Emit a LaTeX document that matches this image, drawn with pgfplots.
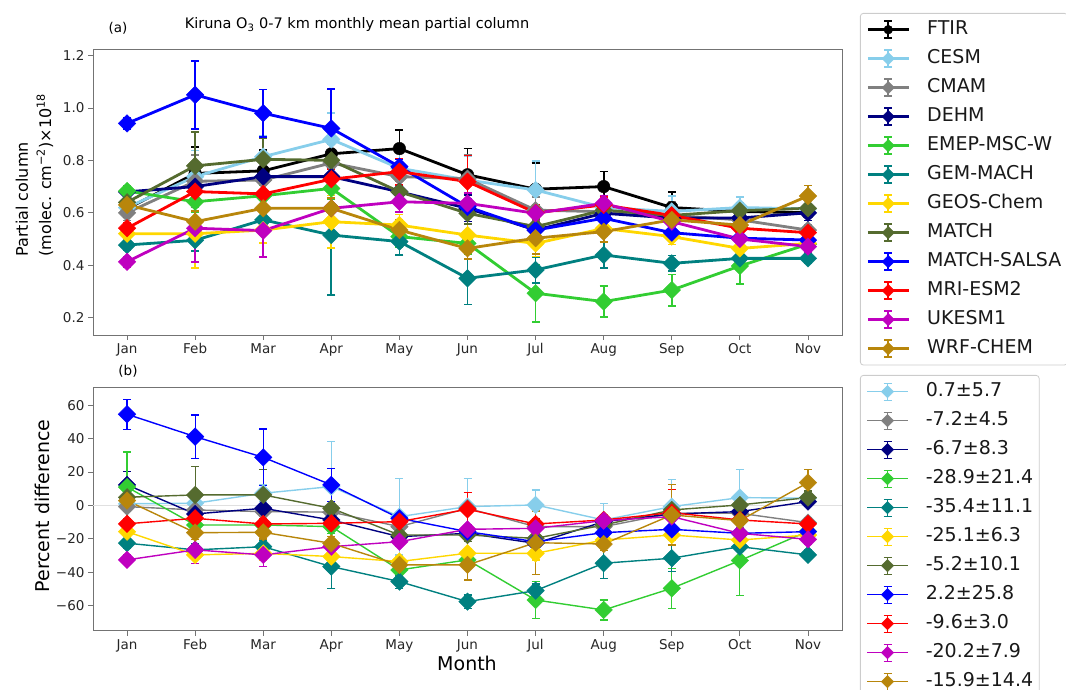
\documentclass[border=0pt]{standalone}
\usepackage{fontspec}
\setmainfont{DejaVu Sans}
\usepackage{pgfplots}
\pgfplotsset{compat=1.18}
\definecolor{cSky}{RGB}{135,206,235}
\definecolor{cGray}{RGB}{128,128,128}
\definecolor{cNavy}{RGB}{0,0,128}
\definecolor{cLime}{RGB}{50,205,50}
\definecolor{cTeal}{RGB}{0,128,128}
\definecolor{cGold}{RGB}{255,215,0}
\definecolor{cOlive}{RGB}{85,107,47}
\definecolor{cBlue}{RGB}{0,0,255}
\definecolor{cRed}{RGB}{255,0,0}
\definecolor{cMag}{RGB}{191,0,191}
\definecolor{cGoldenrod}{RGB}{184,134,11}
\tikzset{
  dia/.style={color=#1, mark=square*, mark size=6.2pt, mark options={rotate=45, solid, fill=#1, draw=#1, line width=0.4pt}},
  circ/.style={color=#1, mark=*, mark size=6.3pt, mark options={solid, fill=#1, draw=#1, line width=0.4pt}},
}
\pgfplotsset{
  base/.style={
    scale only axis, width=749pt,
    xmin=-0.5, xmax=10.5,
    xtick={0,...,10},
    xticklabels={Jan,Feb,Mar,Apr,May,Jun,Jul,Aug,Sep,Oct,Nov},
    tick pos=left, tick align=outside,
    major tick length=5pt,
    axis line style={black!55, line width=0.9pt},
    major tick style={black!55, line width=0.9pt},
    tick label style={font=\fontsize{13.5}{16}\selectfont, text=black!85},
    error bars/y dir=both, error bars/y explicit,
    legend cell align=left,
  },
}
\begin{document}
\begin{tikzpicture}
\clip (0pt,0pt) rectangle (1066pt,690pt);
\begin{axis}[base, at={(93pt,355pt)}, anchor=south west, height=286pt,
  ymin=0.1336, ymax=1.225,
  ytick={0.2,0.4,0.6,0.8,1.0,1.2},
  yticklabels={0.2,0.4,0.6,0.8,1.0,1.2},
  every axis plot/.append style={line width=2.8pt},
  error bars/error bar style={line width=1.7pt},
  error bars/error mark options={rotate=90, line width=1.7pt, mark size=4pt},
  legend image code/.code={
    \draw[#1, mark=none, line width=2.8pt] (0pt,0pt) -- (41pt,0pt);
    \draw[#1, mark=none, line width=1.7pt] (20.5pt,-8.5pt) -- (20.5pt,8.5pt) (16.5pt,-8.5pt) -- (24.5pt,-8.5pt) (16.5pt,8.5pt) -- (24.5pt,8.5pt);
    \draw[#1, mark size=4.4pt] plot coordinates {(20.5pt,0pt)};
  },
  legend style={at={(1.024,1.126)}, anchor=north west, draw=black!20, line width=0.8pt, rounded corners=3pt, fill=white, inner xsep=6pt, inner ysep=7pt, row sep=10.3pt, column sep=17pt, font=\fontsize{19}{22}\selectfont, text=black!90, nodes={inner sep=0pt, text height=14pt, text depth=4.5pt}},
]
\addplot[circ=black] coordinates {(0,0.615)+-(0,0.03) (1,0.75)+-(0,0.10) (2,0.76)+-(0,0.08) (3,0.825)+-(0,0.05) (4,0.845)+-(0,0.07) (5,0.745)+-(0,0.10) (6,0.69)+-(0,0.10) (7,0.70)+-(0,0.057) (8,0.62)+-(0,0.06) (9,0.605)+-(0,0.03) (10,0.60)+-(0,0.03)};
\addlegendentry{FTIR}
\addplot[dia=cSky] coordinates {(0,0.62)+-(0,0.03) (1,0.738)+-(0,0.10) (2,0.814)+-(0,0.08) (3,0.88)+-(0,0.10) (4,0.77)+-(0,0.07) (5,0.725)+-(0,0.09) (6,0.687)+-(0,0.11) (7,0.62)+-(0,0.04) (8,0.605)+-(0,0.06) (9,0.62)+-(0,0.04) (10,0.615)+-(0,0.03)};
\addlegendentry{CESM}
\addplot[dia=cGray] coordinates {(0,0.60)+-(0,0.03) (1,0.72)+-(0,0.10) (2,0.725)+-(0,0.07) (3,0.79)+-(0,0.07) (4,0.738)+-(0,0.05) (5,0.73)+-(0,0.09) (6,0.61)+-(0,0.05) (7,0.604)+-(0,0.04) (8,0.59)+-(0,0.05) (9,0.573)+-(0,0.03) (10,0.534)+-(0,0.02)};
\addlegendentry{CMAM}
\addplot[dia=cNavy] coordinates {(0,0.68)+-(0,0.02) (1,0.70)+-(0,0.05) (2,0.738)+-(0,0.05) (3,0.738)+-(0,0.05) (4,0.68)+-(0,0.04) (5,0.617)+-(0,0.05) (6,0.534)+-(0,0.03) (7,0.598)+-(0,0.03) (8,0.58)+-(0,0.03) (9,0.58)+-(0,0.03) (10,0.60)+-(0,0.03)};
\addlegendentry{DEHM}
\addplot[dia=cLime] coordinates {(0,0.683)+-(0,0.02) (1,0.642)+-(0,0.04) (2,0.665)+-(0,0.04) (3,0.693)+-(0,0.04) (4,0.509)+-(0,0.04) (5,0.483)+-(0,0.04) (6,0.293)+-(0,0.11) (7,0.261)+-(0,0.06) (8,0.305)+-(0,0.06) (9,0.397)+-(0,0.07) (10,0.48)+-(0,0.03)};
\addlegendentry{EMEP-MSC-W}
\addplot[dia=cTeal] coordinates {(0,0.477)+-(0,0.02) (1,0.495)+-(0,0.04) (2,0.573)+-(0,0.04) (3,0.515)+-(0,0.23) (4,0.49)+-(0,0.05) (5,0.35)+-(0,0.10) (6,0.382)+-(0,0.05) (7,0.439)+-(0,0.05) (8,0.407)+-(0,0.03) (9,0.426)+-(0,0.03) (10,0.426)+-(0,0.02)};
\addlegendentry{GEM-MACH}
\addplot[dia=cGold] coordinates {(0,0.52)+-(0,0.02) (1,0.52)+-(0,0.13) (2,0.534)+-(0,0.05) (3,0.566)+-(0,0.10) (4,0.553)+-(0,0.04) (5,0.515)+-(0,0.04) (6,0.483)+-(0,0.05) (7,0.54)+-(0,0.03) (8,0.509)+-(0,0.03) (9,0.464)+-(0,0.02) (10,0.483)+-(0,0.02)};
\addlegendentry{GEOS-Chem}
\addplot[dia=cOlive] coordinates {(0,0.64)+-(0,0.03) (1,0.779)+-(0,0.13) (2,0.804)+-(0,0.08) (3,0.80)+-(0,0.08) (4,0.68)+-(0,0.04) (5,0.598)+-(0,0.04) (6,0.547)+-(0,0.03) (7,0.61)+-(0,0.03) (8,0.59)+-(0,0.03) (9,0.608)+-(0,0.03) (10,0.617)+-(0,0.03)};
\addlegendentry{MATCH}
\addplot[dia=cBlue] coordinates {(0,0.941)+-(0,0.02) (1,1.05)+-(0,0.13) (2,0.98)+-(0,0.09) (3,0.922)+-(0,0.15) (4,0.776)+-(0,0.03) (5,0.623)+-(0,0.03) (6,0.534)+-(0,0.03) (7,0.579)+-(0,0.03) (8,0.524)+-(0,0.03) (9,0.503)+-(0,0.02) (10,0.496)+-(0,0.02)};
\addlegendentry{MATCH-SALSA}
\addplot[dia=cRed] coordinates {(0,0.541)+-(0,0.02) (1,0.681)+-(0,0.04) (2,0.672)+-(0,0.04) (3,0.728)+-(0,0.04) (4,0.757)+-(0,0.05) (5,0.719)+-(0,0.10) (6,0.60)+-(0,0.03) (7,0.63)+-(0,0.03) (8,0.59)+-(0,0.03) (9,0.541)+-(0,0.02) (10,0.524)+-(0,0.02)};
\addlegendentry{MRI-ESM2}
\addplot[dia=cMag] coordinates {(0,0.413)+-(0,0.02) (1,0.541)+-(0,0.13) (2,0.532)+-(0,0.10) (3,0.617)+-(0,0.04) (4,0.642)+-(0,0.04) (5,0.636)+-(0,0.04) (6,0.598)+-(0,0.03) (7,0.636)+-(0,0.03) (8,0.566)+-(0,0.03) (9,0.50)+-(0,0.02) (10,0.471)+-(0,0.02)};
\addlegendentry{UKESM1}
\addplot[dia=cGoldenrod] coordinates {(0,0.63)+-(0,0.02) (1,0.566)+-(0,0.04) (2,0.617)+-(0,0.04) (3,0.617)+-(0,0.04) (4,0.534)+-(0,0.04) (5,0.464)+-(0,0.04) (6,0.503)+-(0,0.06) (7,0.528)+-(0,0.04) (8,0.573)+-(0,0.06) (9,0.553)+-(0,0.03) (10,0.664)+-(0,0.04)};
\addlegendentry{WRF-CHEM}
\end{axis}

\begin{axis}[base, at={(93pt,59.3pt)}, anchor=south west, height=243pt,
  ymin=-75, ymax=70.5,
  ytick={-60,-40,-20,0,20,40,60},
  yticklabels={−60,−40,−20,0,20,40,60},
  extra y ticks={0}, extra y tick labels={},
  extra y tick style={grid=major, major grid style={black!12, line width=0.8pt}, major tick length=0pt},
  every axis plot/.append style={line width=1.4pt},
  error bars/error bar style={line width=1.2pt},
  error bars/error mark options={rotate=90, line width=1.2pt, mark size=4pt},
  legend image code/.code={
    \draw[#1, mark=none, line width=1.4pt] (0pt,0pt) -- (41pt,0pt);
    \draw[#1, mark=none, line width=1.2pt] (20.5pt,-8.5pt) -- (20.5pt,8.5pt) (16.5pt,-8.5pt) -- (24.5pt,-8.5pt) (16.5pt,8.5pt) -- (24.5pt,8.5pt);
    \draw[#1, mark size=4.4pt] plot coordinates {(20.5pt,0pt)};
  },
  legend style={at={(1.024,1.0523)}, anchor=north west, draw=black!20, line width=0.8pt, rounded corners=3pt, fill=white, inner xsep=6pt, inner ysep=7pt, row sep=10.5pt, column sep=17pt, font=\fontsize{19}{22}\selectfont, text=black!90, nodes={inner sep=0pt, text height=14pt, text depth=4.5pt}},
]
\addplot[dia=cSky] coordinates {(0,1)+-(0,3) (1,1.3)+-(0,4) (2,7.3)+-(0,5) (3,11.3)+-(0,27) (4,-6.7)+-(0,23) (5,-0.7)+-(0,17) (6,0.3)+-(0,9) (7,-8.7)+-(0,10) (8,-0.7)+-(0,16) (9,4.7)+-(0,17) (10,4.3)+-(0,3)};
\addlegendentry{0.7±5.7}
\addplot[dia=cGray] coordinates {(0,-0.7)+-(0,3) (1,-2.7)+-(0,4) (2,-3.7)+-(0,3) (3,-4)+-(0,3) (4,-12.7)+-(0,3) (5,-1.7)+-(0,3) (6,-12.7)+-(0,3) (7,-12.7)+-(0,3) (8,-4.7)+-(0,3) (9,-4.7)+-(0,3) (10,-10.3)+-(0,3)};
\addlegendentry{-7.2±4.5}
\addplot[dia=cNavy] coordinates {(0,12.3)+-(0,8) (1,-5.1)+-(0,3) (2,-1.7)+-(0,3) (3,-8.7)+-(0,3) (4,-18.7)+-(0,3) (5,-16.7)+-(0,3) (6,-22.7)+-(0,3) (7,-9.7)+-(0,3) (8,-5.1)+-(0,3) (9,-3.7)+-(0,3) (10,2.3)+-(0,3)};
\addlegendentry{-6.7±8.3}
\addplot[dia=cLime] coordinates {(0,11)+-(0,21) (1,-11.7)+-(0,4) (2,-11.7)+-(0,4) (3,-12.7)+-(0,4) (4,-38.6)+-(0,4) (5,-32.6)+-(0,4) (6,-56.6)+-(0,11) (7,-62.6)+-(0,6) (8,-49.6)+-(0,12) (9,-33)+-(0,21) (10,-15.5)+-(0,4)};
\addlegendentry{-28.9±21.4}
\addplot[dia=cTeal] coordinates {(0,-22.6)+-(0,3) (1,-26.6)+-(0,4) (2,-24.7)+-(0,4) (3,-36.6)+-(0,13) (4,-45.6)+-(0,4) (5,-57.6)+-(0,4) (6,-51)+-(0,4) (7,-34.6)+-(0,9) (8,-31.6)+-(0,8) (9,-24.7)+-(0,3) (10,-29.6)+-(0,3)};
\addlegendentry{-35.4±11.1}
\addplot[dia=cGold] coordinates {(0,-15.7)+-(0,3) (1,-29.6)+-(0,5) (2,-28.7)+-(0,4) (3,-30.6)+-(0,4) (4,-33.6)+-(0,3) (5,-28.6)+-(0,3) (6,-28.7)+-(0,4) (7,-20.7)+-(0,3) (8,-17.7)+-(0,3) (9,-20.7)+-(0,3) (10,-17.7)+-(0,3)};
\addlegendentry{-25.1±6.3}
\addplot[dia=cOlive] coordinates {(0,4.9)+-(0,4) (1,6.3)+-(0,17) (2,6.3)+-(0,15) (3,-1.7)+-(0,4) (4,-17.7)+-(0,4) (5,-17.7)+-(0,4) (6,-19.7)+-(0,4) (7,-11.7)+-(0,4) (8,-2.7)+-(0,4) (9,0.3)+-(0,4) (10,4.7)+-(0,4)};
\addlegendentry{-5.2±10.1}
\addplot[dia=cBlue] coordinates {(0,54.6)+-(0,9) (1,41.2)+-(0,13) (2,28.8)+-(0,17) (3,12.3)+-(0,10) (4,-7.7)+-(0,2) (5,-15.7)+-(0,2) (6,-21.7)+-(0,2) (7,-16.3)+-(0,2) (8,-14.3)+-(0,2) (9,-16.7)+-(0,2) (10,-15.7)+-(0,2)};
\addlegendentry{2.2±25.8}
\addplot[dia=cRed] coordinates {(0,-11)+-(0,3) (1,-7.7)+-(0,3) (2,-11.1)+-(0,3) (3,-10.7)+-(0,3) (4,-9.7)+-(0,3) (5,-2.3)+-(0,10) (6,-11.1)+-(0,3) (7,-8.7)+-(0,3) (8,-4.3)+-(0,14) (9,-8.7)+-(0,3) (10,-11.1)+-(0,3)};
\addlegendentry{-9.6±3.0}
\addplot[dia=cMag] coordinates {(0,-32.6)+-(0,3) (1,-26.6)+-(0,8) (2,-29.6)+-(0,7) (3,-24.7)+-(0,3) (4,-21.7)+-(0,3) (5,-14.3)+-(0,3) (6,-13.7)+-(0,3) (7,-9.1)+-(0,3) (8,-6.7)+-(0,3) (9,-16.7)+-(0,3) (10,-20.3)+-(0,3)};
\addlegendentry{-20.2±7.9}
\addplot[dia=cGoldenrod] coordinates {(0,2.9)+-(0,4) (1,-16.3)+-(0,4) (2,-16.1)+-(0,4) (3,-22.7)+-(0,4) (4,-35.6)+-(0,4) (5,-35.6)+-(0,9) (6,-22.3)+-(0,19) (7,-23.1)+-(0,4) (8,-5.7)+-(0,18) (9,-9.1)+-(0,4) (10,13.7)+-(0,8)};
\addlegendentry{-15.9±14.4}
\end{axis}

\node[font=\fontsize{14.5}{17}\selectfont] at (357pt,665pt) {Kiruna O\textsubscript{3} 0-7 km monthly mean partial column};
\node[font=\fontsize{13.5}{16}\selectfont] at (118pt,662pt) {(a)};
\node[font=\fontsize{13.5}{16}\selectfont] at (128pt,319pt) {(b)};
\node[rotate=90, anchor=west, font=\fontsize{16}{19}\selectfont] at (22pt,430pt) {Partial column};
\node[rotate=90, anchor=west, font=\fontsize{16}{19}\selectfont] at (45pt,430pt) {(molec. cm\textsuperscript{−2})×10\textsuperscript{18}};
\node[rotate=90, font=\fontsize{19}{22}\selectfont] at (42pt,184pt) {Percent difference};
\node[font=\fontsize{19}{22}\selectfont] at (467pt,27pt) {Month};
\end{tikzpicture}
\end{document}
